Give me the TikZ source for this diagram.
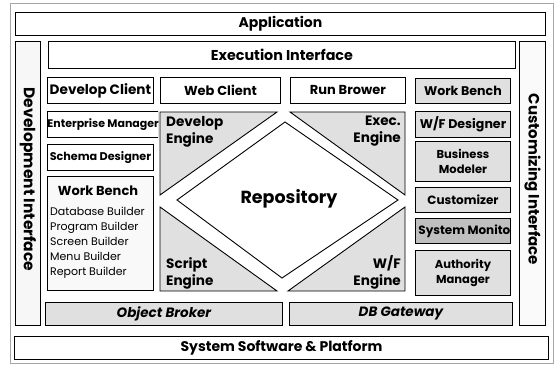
\documentclass[tikz,border=0pt]{standalone}
\usepackage{fontspec}
\setmainfont{Poppins}
\newcommand\fsz[2]{\fontsize{#1}{#2}\selectfont}
\begin{document}
\begin{tikzpicture}[x=1pt,y=-1pt,
  box/.style={draw=black,line width=0.9pt,fill=white,inner sep=0pt,font=\bfseries\fsz{13}{15}},
  grain/.style={fill=gray!24},
  dark/.style={fill=gray!50},
  lbl/.style={inner sep=0pt,font=\bfseries\fsz{13}{15}},
  engine/.style={draw=black,line width=0.9pt,fill=gray!24},
  item/.style={inner sep=0pt,anchor=base west,font=\fsz{11}{13}}]
\useasboundingbox (0,0) rectangle (557,366);
% outer frame
\draw[gray!70,line width=0.6pt] (10,3) rectangle (553,363);

% horizontal bands
\node[box,minimum width=530,minimum height=23,anchor=north west,font=\bfseries\fsz{14}{16}] (app) at (15,12) {Application};
\node[box,minimum width=467,minimum height=27,anchor=north west,font=\bfseries\fsz{14.3}{16}] (exec) at (48,41) {Execution Interface};
\node[box,minimum width=534,minimum height=23,anchor=north west,font=\bfseries\fsz{14}{16}] (sys) at (14,336) {System Software \& Platform};

% side interfaces
\node[box,fill=gray!6,minimum width=25,minimum height=284,anchor=north west] (devif) at (15,41) {};
\node[lbl,rotate=-90,font=\bfseries\fsz{15.5}{17}] (devt) at ([yshift=4pt]devif.center) {Development Interface};
\node[box,fill=gray!4,minimum width=26,minimum height=284,anchor=north west] (cusif) at (519,41) {};
\node[lbl,rotate=-90,font=\bfseries\fsz{15}{17}] (cust) at ([yshift=4pt]cusif.center) {Customizing Interface};

% client row
\node[box,minimum width=106,minimum height=26,anchor=north west,font=\bfseries\fsz{13.6}{15}] (devc) at (47,77) {Develop Client};
\node[box,minimum width=120,minimum height=26,anchor=north west] (webc) at (160,77) {Web Client};
\node[box,minimum width=115,minimum height=26,anchor=north west] (runb) at (290,77) {Run Brower};
\node[box,grain,minimum width=95,minimum height=25,anchor=north west,font=\bfseries\fsz{12.6}{15}] (wbr) at (415,78) {Work Bench};

% left column
\begin{scope}
  \clip (44,108) rectangle (158,140);
  \node[box,minimum width=106,minimum height=26,anchor=north west,font=\bfseries\fsz{11}{13}] (entm) at (47,111) {Enterprise Manager};
\end{scope}
\node[box,minimum width=106,minimum height=26,anchor=north west,font=\bfseries\fsz{11.2}{13}] (schd) at (47,144) {Schema Designer};
\node[box,fill=gray!5,minimum width=106,minimum height=114,anchor=north west] (wbl) at (47,176) {};
\node[lbl] (wblt) at (98,191) {Work Bench};
\node[item] (db) at (50,216) {Database Builder};
\node[item] (pb) at (50,231) {Program Builder};
\node[item] (sb) at (50,246) {Screen Builder};
\node[item] (mb) at (50,261) {Menu Builder};
\node[item] (rb) at (50,276) {Report Builder};

% right column
\node[box,grain,minimum width=95,minimum height=26,anchor=north west,font=\bfseries\fsz{12.6}{15}] (wfd) at (415,111) {W/F Designer};
\node[box,grain,minimum width=95,minimum height=40,anchor=north west,align=center,font=\bfseries\fsz{11.5}{15}] (bm) at (415,141) {Business\\Modeler};
\node[box,grain,minimum width=95,minimum height=25,anchor=north west,font=\bfseries\fsz{12}{15}] (cz) at (415,187) {Customizer};
\node[box,dark,minimum width=95,minimum height=25,anchor=north west] (smb) at (415,218) {};
\begin{scope}
  \clip (415,218) rectangle (510,243);
  \node[lbl,font=\bfseries\fsz{12}{15}] (smt) at ([xshift=4pt]smb.center) {System Monitor};
\end{scope}
\draw[line width=0.9pt] (smb.north west) rectangle (smb.south east);
\node[box,grain,minimum width=95,minimum height=45,anchor=north west,align=center,font=\bfseries\fsz{11.5}{15}] (am) at (415,250) {Authority\\Manager};

% engines around the repository
\draw[engine] (160,112) -- (277,112) -- (160,195) -- cycle;
\draw[engine] (290,112) -- (405,112) -- (405,195) -- cycle;
\draw[engine] (160,207) -- (277,291) -- (160,291) -- cycle;
\draw[engine] (405,207) -- (405,291) -- (288,291) -- cycle;
\node[lbl,anchor=north west,align=left,font=\bfseries\fsz{13.6}{17}] (deve) at (166,116) {Develop\\Engine};
\node[lbl,anchor=north east,align=right,font=\bfseries\fsz{13.6}{17}] (exe) at (401,116) {Exec.\\Engine};
\node[lbl,anchor=south west,align=left,font=\bfseries\fsz{13.6}{17}] (scre) at (166,289) {Script\\Engine};
\node[lbl,anchor=south east,align=right,font=\bfseries\fsz{13.6}{17}] (wfe) at (401,289) {W/F\\Engine};

% repository
\draw[line width=0.9pt,fill=white] (285,122) -- (398,200) -- (282,278) -- (177,200) -- cycle;
\node[lbl,font=\bfseries\fsz{17.5}{20}] (repo) at (289,199) {Repository};

% bottom brokers
\node[box,grain,minimum width=237,minimum height=23,anchor=north west,font=\bfseries\itshape\fsz{13.5}{15}] (ob) at (45,302) {Object Broker};
\node[box,grain,minimum width=223,minimum height=23,anchor=north west,font=\bfseries\itshape\fsz{13.5}{15}] (dbg) at (289,302) {DB Gateway};
\end{tikzpicture}
\end{document}
